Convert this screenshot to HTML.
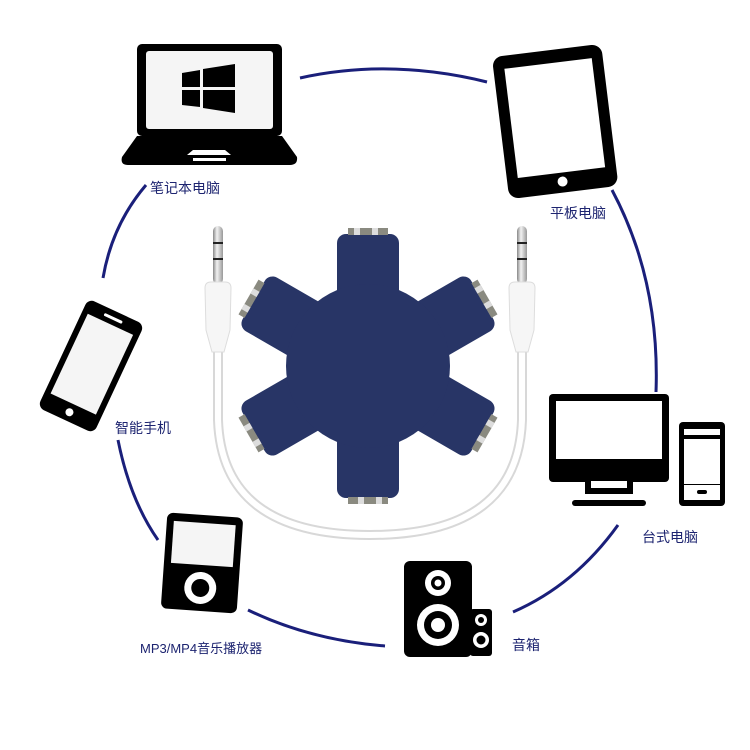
<!DOCTYPE html>
<html><head><meta charset="utf-8"><style>
body{margin:0;background:#fff;}
svg{display:block}
text{font-family:"Liberation Sans","Noto Sans CJK SC",sans-serif;fill:#1d2470;font-size:14px}
</style></head><body>
<svg width="750" height="750" viewBox="0 0 750 750">
<defs>
<linearGradient id="metal" x1="0" x2="1"><stop offset="0" stop-color="#888"/><stop offset="0.4" stop-color="#f2f2f2"/><stop offset="1" stop-color="#999"/></linearGradient>
<g id="arm"><rect x="-31" y="-132" width="62" height="130" rx="9" fill="#283566"/><rect x="-20" y="-138" width="40" height="7" fill="#8a8a80"/><rect x="-14" y="-138" width="6" height="7" fill="#ddd"/><rect x="4" y="-138" width="6" height="7" fill="#ddd"/></g>
</defs>
<g fill="none" stroke="#1a1f7a" stroke-width="3">
<path d="M300 78 Q390 58 487 82"/>
<path d="M612 190 Q660 280 656 392"/>
<path d="M618 525 Q575 585 513 612"/>
<path d="M385 646 Q310 640 248 610"/>
<path d="M158 540 Q130 500 118 440"/>
<path d="M103 278 Q112 225 146 185"/>
</g>
<path d="M218 350 L218 420 Q222 535 370 535 Q518 535 522 420 L522 350" fill="none" stroke="#d8d8d8" stroke-width="10"/>
<path d="M218 350 L218 420 Q222 535 370 535 Q518 535 522 420 L522 350" fill="none" stroke="#fff" stroke-width="6"/>
<g id="plug">
<rect x="213" y="226" width="10" height="58" rx="5" fill="url(#metal)"/>
<rect x="213" y="242" width="10" height="2" fill="#222"/><rect x="213" y="258" width="10" height="2" fill="#222"/>
<path d="M205 288 Q205 282 211 282 L225 282 Q231 282 231 288 L230 330 L224 352 L212 352 L206 330 Z" fill="#f6f6f6" stroke="#ddd"/>
</g>
<use href="#plug" transform="translate(304 0)"/>
<g transform="translate(368 366)">
<use href="#arm"/><use href="#arm" transform="rotate(60)"/><use href="#arm" transform="rotate(120)"/>
<use href="#arm" transform="rotate(180)"/><use href="#arm" transform="rotate(240)"/><use href="#arm" transform="rotate(300)"/>
<circle r="82" fill="#283566"/>
</g>
<rect x="137" y="44" width="145" height="92" rx="5" fill="#000"/>
<rect x="146" y="51" width="127" height="78" rx="3" fill="#f5f5f5"/>
<path d="M182 73 L200 70 L200 87 L182 87 Z M203 69 L235 64 L235 87 L203 87 Z M182 90 L200 90 L200 107 L182 105 Z M203 90 L235 90 L235 113 L203 108 Z" fill="#000"/>
<path d="M137 136 L282 136 L297 157 Q298 165 290 165 L128 165 Q120 165 122 157 Z" fill="#000"/>
<path d="M187 155 L193 150 L225 150 L231 155 Z" fill="#fff"/><rect x="193" y="158" width="33" height="3" fill="#fff"/>
<text x="150" y="193">笔记本电脑</text>
<g transform="rotate(-7 555 120)">
<rect x="500" y="50" width="110" height="143" rx="10" fill="#000"/>
<rect x="511" y="63" width="88" height="110" fill="#fff"/>
<circle cx="555" cy="182" r="5" fill="#fff"/>
</g>
<text x="550" y="218">平板电脑</text>
<g transform="rotate(25 91 366)">
<rect x="60" y="306" width="62" height="120" rx="7" fill="#000"/>
<rect x="66" y="320" width="50" height="88" fill="#f5f5f5"/>
<rect x="81" y="312" width="20" height="3" rx="1.5" fill="#fff"/>
<circle cx="91" cy="417" r="4" fill="#fff"/>
</g>
<text x="115" y="433">智能手机</text>
<g transform="rotate(4 202 563)">
<rect x="164" y="515" width="76" height="96" rx="6" fill="#000"/>
<rect x="171" y="523" width="62" height="42" fill="#f5f5f5"/>
<circle cx="202" cy="588" r="16" fill="#fff"/><circle cx="202" cy="588" r="9" fill="#000"/>
</g>
<text x="140" y="653" style="font-size:13px">MP3/MP4音乐播放器</text>
<rect x="404" y="561" width="68" height="96" rx="6" fill="#000"/>
<circle cx="438" cy="583" r="13" fill="#fff"/><circle cx="438" cy="583" r="7" fill="#000"/><circle cx="438" cy="583" r="3.5" fill="#fff"/>
<circle cx="438" cy="625" r="21" fill="#fff"/><circle cx="438" cy="625" r="14" fill="#000"/><circle cx="438" cy="625" r="7" fill="#fff"/>
<rect x="470" y="609" width="22" height="47" rx="3" fill="#000"/>
<circle cx="481" cy="620" r="6" fill="#fff"/><circle cx="481" cy="620" r="3" fill="#000"/>
<circle cx="481" cy="640" r="8" fill="#fff"/><circle cx="481" cy="640" r="4.5" fill="#000"/>
<text x="512" y="650">音箱</text>
<rect x="549" y="394" width="120" height="88" rx="4" fill="#000"/>
<rect x="556" y="401" width="106" height="58" fill="#fff"/>
<path d="M585 482 L633 482 L633 494 L585 494 Z" fill="#000"/><rect x="591" y="481" width="36" height="7" fill="#fff"/>
<rect x="572" y="500" width="74" height="6" rx="3" fill="#000"/>
<rect x="679" y="422" width="46" height="84" rx="4" fill="#000"/>
<rect x="684" y="429" width="36" height="6" fill="#fff"/><rect x="684" y="439" width="36" height="45" fill="#fff"/><rect x="684" y="485" width="36" height="15" fill="#fff"/>
<rect x="697" y="490" width="10" height="4" rx="2" fill="#000"/>
<text x="642" y="542">台式电脑</text>
</svg>
</body></html>
